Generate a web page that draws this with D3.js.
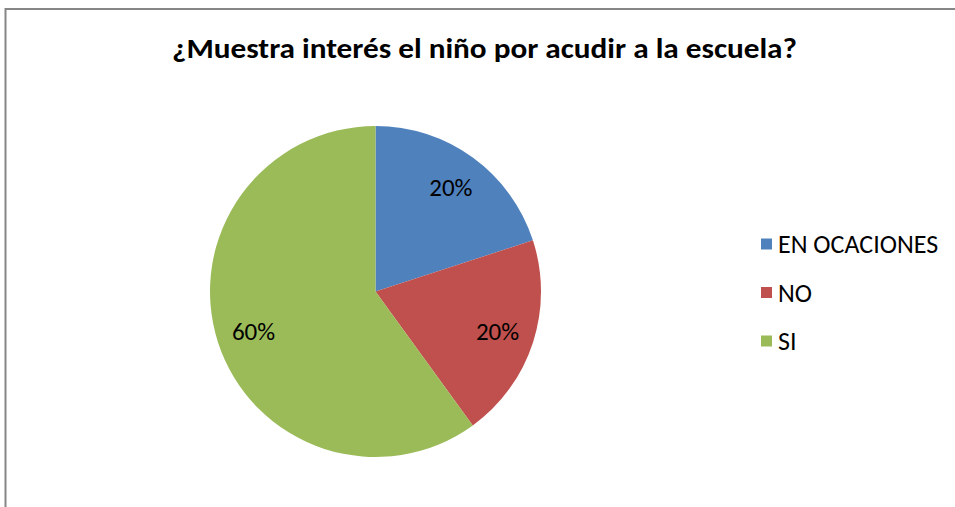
<!DOCTYPE html>
<html>
<head>
<meta charset="utf-8">
<style>
  body { margin: 0; background: #fff; }
  text { font-family: Carlito, Calibri, Lato, sans-serif; fill: #000; }
</style>
</head>
<body>
<svg width="955" height="507"></svg>
<script src="https://d3js.org/d3.v7.min.js"></script>
<script>
const title = "¿Muestra interés el niño por acudir a la escuela?";
const categories = ["EN OCACIONES", "NO", "SI"];
const values = [20, 20, 60];
const labels = ["20%", "20%", "60%"];
const colors = ["#4F81BD", "#C0504D", "#9BBB59"];

const svg = d3.select("svg");

// chart frame (only top and left edges are visible in the crop)
svg.append("path")
  .attr("d", "M5.5,507 V9 H955")
  .attr("fill", "none")
  .attr("stroke", "#868686")
  .attr("stroke-width", 2);

svg.append("text")
  .attr("x", 172).attr("y", 58)
  .attr("textLength", 625)
  .attr("lengthAdjust", "spacingAndGlyphs")
  .style("font-weight", "bold")
  .style("font-size", "28px")
  .text(title);

const cx = 375.5, cy = 291.5, r = 165.5;
const color = d3.scaleOrdinal().domain(categories).range(colors);

const pie = d3.pie().sort(null).value(d => d.value);
const data = categories.map((c, i) => ({ name: c, value: values[i], label: labels[i] }));
const arcs = pie(data);

const arc = d3.arc().innerRadius(0).outerRadius(r);
const labelArc = d3.arc().innerRadius(r * 0.775).outerRadius(r * 0.775);

const g = svg.append("g").attr("transform", `translate(${cx},${cy})`);
g.selectAll("path.slice")
  .data(arcs)
  .join("path")
  .attr("class", "slice")
  .attr("d", arc)
  .attr("fill", d => color(d.data.name));

g.selectAll("text.lbl")
  .data(arcs)
  .join("text")
  .attr("class", "lbl")
  .attr("transform", d => `translate(${labelArc.centroid(d)})`)
  .attr("text-anchor", "middle")
  .attr("dy", "0.35em")
  .style("font-size", "25px")
  .text(d => d.data.label);

const legend = svg.append("g").attr("transform", "translate(761,244)");
const item = legend.selectAll("g")
  .data(categories)
  .join("g")
  .attr("transform", (d, i) => `translate(0,${i * 48.5})`);
item.append("rect")
  .attr("x", 0).attr("y", -5.5)
  .attr("width", 11).attr("height", 11)
  .attr("fill", d => color(d));
item.append("text")
  .attr("x", 17).attr("dy", "0.35em")
  .style("font-size", "26px")
  .text(d => d);
</script>
</body>
</html>
